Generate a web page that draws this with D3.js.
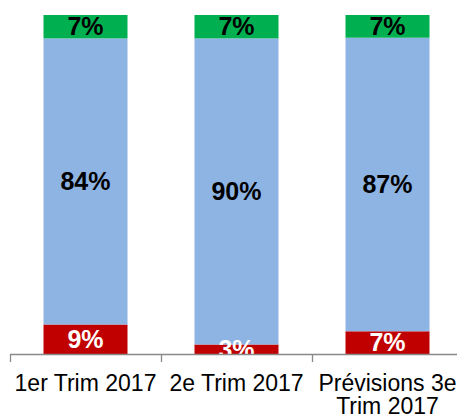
<!DOCTYPE html>
<html>
<head>
<meta charset="utf-8">
<script src="https://cdn.jsdelivr.net/npm/d3@7"></script>
<style>
  html, body { margin: 0; padding: 0; background: #fff; }
  svg { display: block; }
</style>
</head>
<body>
<svg id="chart" width="457" height="418"></svg>
<script>
const categories = ["1er Trim 2017", "2e Trim 2017", "Prévisions 3e Trim 2017"];
const seriesNames = ["Baisse", "Stable", "Hausse"];
const baisse = [8.7, 2.8, 6.7];
const stable = [84.4, 90.3, 86.6];
const hausse = [6.9, 6.9, 6.7];
const colors = ["#C00000", "#8EB4E3", "#00B050"];
const labelColors = ["#FFFFFF", "#000000", "#000000"];

const svg = d3.select("#chart");
const font = "'Liberation Sans', Arial, sans-serif";

const x0 = 10, x1 = 463, yBottom = 354, yTop = 15;

const xOuter = d3.scaleBand().domain(categories).range([x0, x1]).padding(0);
const pIn = 67 / 151;
const x = d3.scaleBand().domain(categories).range([x0, x1])
  .paddingInner(pIn).paddingOuter(pIn / 2);
const y = d3.scaleLinear().domain([0, 100]).range([yBottom, yTop]);

const data = categories.map((c, i) => ({ cat: c, Baisse: baisse[i], Stable: stable[i], Hausse: hausse[i] }));
const stack = d3.stack().keys(seriesNames)(data);

svg.append("defs").append("clipPath").attr("id", "plotClip")
  .append("rect").attr("x", 0).attr("y", 0).attr("width", 457).attr("height", yBottom);

const g = svg.append("g");
stack.forEach((layer, li) => {
  g.selectAll(null).data(layer).enter().append("rect")
    .attr("x", d => x(d.data.cat))
    .attr("width", x.bandwidth())
    .attr("y", d => y(d[1]))
    .attr("height", d => y(d[0]) - y(d[1]))
    .attr("fill", colors[li]);
});

const lg = svg.append("g").attr("clip-path", "url(#plotClip)");
stack.forEach((layer, li) => {
  lg.selectAll(null).data(layer).enter().append("text")
    .attr("x", d => x(d.data.cat) + x.bandwidth() / 2)
    .attr("y", d => (y(d[0]) + y(d[1])) / 2)
    .attr("dy", "0.35em")
    .attr("text-anchor", "middle")
    .attr("font-family", font)
    .attr("font-weight", "bold")
    .attr("font-size", 25)
    .attr("fill", labelColors[li])
    .text(d => Math.round(d[1] - d[0]) + "%");
});

// axis
const axisG = svg.append("g").attr("transform", `translate(0,${yBottom})`);
const axis = d3.axisBottom(xOuter).tickSize(0).tickPadding(0);
axisG.call(axis);
axisG.select(".domain").remove();
axisG.append("line").attr("x1", x0).attr("x2", x1).attr("y1", 0.5).attr("y2", 0.5)
  .attr("stroke", "#898989").attr("stroke-width", 1.3);
const boundaries = categories.map(c => xOuter(c)).concat([x1]);
axisG.selectAll(".tickmark").data(boundaries).enter().append("line")
  .attr("class", "tickmark")
  .attr("x1", d => Math.round(d) + 0.5).attr("x2", d => Math.round(d) + 0.5)
  .attr("y1", 0).attr("y2", 8)
  .attr("stroke", "#898989").attr("stroke-width", 1.3);

axisG.selectAll(".tick text")
  .attr("font-family", font)
  .attr("font-size", 23)
  .attr("fill", "#000")
  .attr("y", 37)
  .attr("dy", 0)
  .each(function(d) {
    const t = d3.select(this);
    const words = d.split(" ");
    const maxW = xOuter.bandwidth();
    t.text(null);
    let line = [];
    let lineNo = 0;
    let tspan = t.append("tspan").attr("x", 0).attr("y", 37);
    words.forEach(w => {
      line.push(w);
      tspan.text(line.join(" "));
      if (tspan.node().getComputedTextLength() > maxW && line.length > 1) {
        line.pop();
        tspan.text(line.join(" "));
        line = [w];
        lineNo++;
        tspan = t.append("tspan").attr("x", 0).attr("y", 37 + lineNo * 22.5).text(w);
      }
    });
  });
</script>
</body>
</html>
